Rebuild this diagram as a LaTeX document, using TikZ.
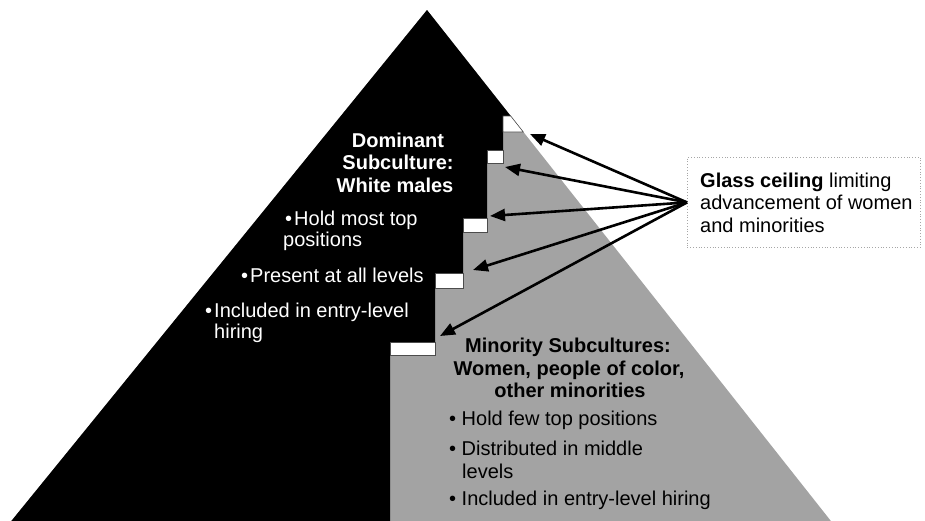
\documentclass[tikz,border=0pt]{standalone}
\usepackage{fontspec}
\setmainfont{Liberation Sans}
\usetikzlibrary{arrows.meta}
\definecolor{stipple}{RGB}{163,163,163}
\begin{document}
\begin{tikzpicture}[x=1pt,y=-1pt,
  txt/.style={font=\fontsize{20}{22.5}\selectfont, inner sep=0pt},
  wtxt/.style={txt, text=white},
  wbox/.style={draw=black!70, line width=0.6pt, fill=white, inner sep=0pt, anchor=north west},
  ceil/.style={line width=2.6pt, -{Triangle[length=15pt,width=12pt]}},
  frame/.style={draw=black!35, dotted, line width=0.8pt, inner sep=0pt, anchor=north west}]
\useasboundingbox (0,0) rectangle (925,520);
\clip (0,0) rectangle (925,520);
% pyramid: grey minority part, then black dominant part
\fill[stipple] (427,10) -- (838,530) -- (4,530) -- cycle;
\fill[black] (427,10) -- (510.7,116) -- (503,116) -- (503,150) -- (487,150)
  -- (487,218) -- (463,218) -- (463,273) -- (435,273) -- (435,342)
  -- (390,342) -- (390,530) -- (4,530) -- cycle;
% white ceiling boxes
\filldraw[draw=black!70, line width=0.6pt, fill=white] (503,116) -- (510.7,116) -- (523.3,132) -- (503,132) -- cycle;
\coordinate (b1) at (513,124);
\node[wbox, minimum width=16pt, minimum height=13pt] (b2) at (487,150) {};
\node[wbox, minimum width=24pt, minimum height=14pt] (b3) at (463,218) {};
\node[wbox, minimum width=28pt, minimum height=15pt] (b4) at (435,273) {};
\node[wbox, minimum width=45pt, minimum height=13pt] (b5) at (390,342) {};
% dominant text
\node[wtxt, font=\fontsize{20}{22.5}\selectfont\bfseries, anchor=base] (d1) at (398,147) {Dominant};
\node[wtxt, font=\fontsize{20}{22.5}\selectfont\bfseries, anchor=base] (d2) at (398,169) {Subculture:};
\node[wtxt, font=\fontsize{20}{22.5}\selectfont\bfseries, anchor=base] (d3) at (395,192) {White males};
\node[wtxt, anchor=base west] (d4) at (285,225) {•\hspace{2pt}Hold most top};
\node[wtxt, anchor=base west] (d5) at (283,246) {positions};
\node[wtxt, anchor=base west] (d6) at (241,282) {•\hspace{2pt}Present at all levels};
\node[wtxt, anchor=base west] (d7) at (205,317) {•\hspace{2pt}Included in entry-level};
\node[wtxt, anchor=base west] (d8) at (214,338) {hiring};
% minority text
\node[txt, font=\fontsize{20}{22.5}\selectfont\bfseries, anchor=base] (m1) at (568,352) {Minority Subcultures:};
\node[txt, font=\fontsize{20}{22.5}\selectfont\bfseries, anchor=base] (m2) at (569,375) {Women, people of color,};
\node[txt, font=\fontsize{20}{22.5}\selectfont\bfseries, anchor=base] (m3) at (570,397) {other minorities};
\node[txt, anchor=base west] (m4) at (449,425) {• Hold few top positions};
\node[txt, anchor=base west] (m5) at (449,455) {• Distributed in middle};
\node[txt, anchor=base west] (m6) at (462,478) {levels};
\node[txt, anchor=base west] (m7) at (449,505) {• Included in entry-level hiring};
% glass ceiling text box
\node[frame, minimum width=233pt, minimum height=90pt] (gbox) at (687,157) {};
\node[txt, anchor=base west] (g1) at (700,187) {\textbf{Glass ceiling} limiting};
\node[txt, anchor=base west] (g2) at (700,209) {advancement of women};
\node[txt, anchor=base west] (g3) at (700,232) {and minorities};
% arrows
\coordinate (t1) at (530,134);
\coordinate (t2) at (505,167);
\coordinate (t3) at (490,216);
\coordinate (t4) at (473,270);
\coordinate (t5) at (440,336);
\foreach \t in {t1,t2,t3,t4,t5} \draw[ceil] (gbox.west) -- (\t);
\end{tikzpicture}
\end{document}
